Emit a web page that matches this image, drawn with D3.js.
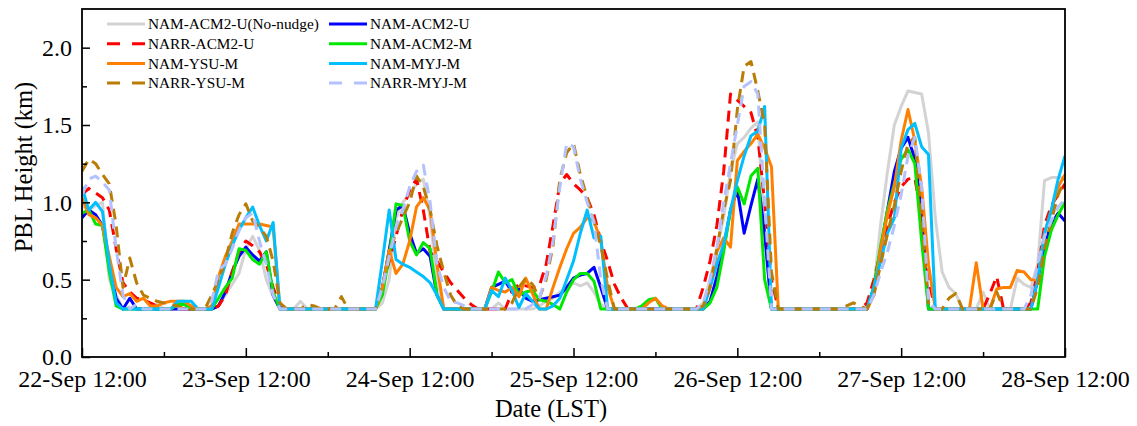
<!DOCTYPE html>
<html>
<head>
<meta charset="utf-8">
<script src="https://cdn.jsdelivr.net/npm/d3@7"></script>
<style>
    body { margin: 0; background: #fff; }
    text { font-family: "Liberation Serif", "Times New Roman", serif; fill: #000; }
</style>
</head>
<body>
<svg id="chart" width="1137" height="426"></svg>
<script>
// hourly PBL height (km), 22-Sep 12:00 .. 28-Sep 12:00 LST (145 values each)
const namAcm2UNoNudge = [
    0.98, 0.95, 0.98, 1.00, 0.50, 0.40, 0.31, 0.31, 0.31, 0.31, 0.31, 0.34,
    0.31, 0.31, 0.31, 0.31, 0.31, 0.31, 0.31, 0.31, 0.33, 0.40, 0.47, 0.54,
    0.70, 0.78, 0.69, 0.50, 0.39, 0.31, 0.31, 0.31, 0.36, 0.31, 0.31, 0.31,
    0.31, 0.31, 0.31, 0.31, 0.31, 0.31, 0.31, 0.31, 0.35, 0.50, 0.90, 1.00,
    1.05, 1.12, 1.15, 0.90, 0.50, 0.31, 0.31, 0.31, 0.31, 0.31, 0.31, 0.31,
    0.31, 0.35, 0.31, 0.31, 0.31, 0.31, 0.31, 0.33, 0.36, 0.38, 0.42, 0.45,
    0.48, 0.46, 0.48, 0.42, 0.34, 0.31, 0.31, 0.31, 0.31, 0.31, 0.31, 0.31,
    0.31, 0.31, 0.31, 0.31, 0.31, 0.31, 0.31, 0.35, 0.50, 0.70, 0.90, 1.20,
    1.38, 1.42, 1.48, 1.52, 0.80, 0.31, 0.31, 0.31, 0.31, 0.31, 0.31, 0.31,
    0.31, 0.31, 0.31, 0.31, 0.31, 0.31, 0.31, 0.33, 0.45, 0.86, 1.20, 1.50,
    1.62, 1.72, 1.71, 1.70, 1.45, 0.90, 0.55, 0.45, 0.41, 0.31, 0.31, 0.31,
    0.42, 0.31, 0.31, 0.31, 0.31, 0.51, 0.47, 0.45, 0.60, 1.14, 1.16, 1.16,
    1.16
];
const namAcm2U = [
    0.90, 0.95, 0.92, 0.85, 0.60, 0.38, 0.31, 0.38, 0.31, 0.31, 0.31, 0.31,
    0.31, 0.31, 0.31, 0.31, 0.31, 0.31, 0.31, 0.31, 0.33, 0.42, 0.55, 0.65,
    0.71, 0.66, 0.62, 0.68, 0.40, 0.31, 0.31, 0.31, 0.31, 0.31, 0.31, 0.31,
    0.31, 0.31, 0.31, 0.31, 0.31, 0.31, 0.31, 0.31, 0.45, 0.69, 0.95, 0.98,
    0.80, 0.67, 0.70, 0.65, 0.40, 0.31, 0.31, 0.31, 0.31, 0.31, 0.31, 0.31,
    0.45, 0.47, 0.49, 0.42, 0.44, 0.38, 0.36, 0.37, 0.38, 0.39, 0.40, 0.45,
    0.51, 0.53, 0.54, 0.58, 0.45, 0.31, 0.31, 0.31, 0.31, 0.31, 0.31, 0.31,
    0.31, 0.31, 0.31, 0.31, 0.31, 0.31, 0.31, 0.31, 0.36, 0.52, 0.71, 0.95,
    1.08, 0.80, 0.98, 1.15, 0.80, 0.31, 0.31, 0.31, 0.31, 0.31, 0.31, 0.31,
    0.31, 0.31, 0.31, 0.31, 0.31, 0.31, 0.31, 0.31, 0.45, 0.70, 0.95, 1.20,
    1.35, 1.42, 1.28, 0.95, 0.31, 0.31, 0.31, 0.31, 0.31, 0.31, 0.31, 0.31,
    0.31, 0.31, 0.31, 0.31, 0.31, 0.31, 0.31, 0.31, 0.50, 0.72, 0.86, 0.93,
    0.88
];
const narrAcm2U = [
    1.05, 1.09, 1.06, 1.03, 0.95, 0.70, 0.48, 0.42, 0.38, 0.37, 0.35, 0.33,
    0.31, 0.31, 0.31, 0.31, 0.31, 0.31, 0.31, 0.31, 0.33, 0.40, 0.55, 0.68,
    0.75, 0.72, 0.68, 0.60, 0.45, 0.33, 0.31, 0.31, 0.31, 0.31, 0.31, 0.31,
    0.31, 0.31, 0.31, 0.31, 0.31, 0.31, 0.31, 0.31, 0.45, 0.62, 0.78, 0.95,
    1.08, 1.15, 0.95, 0.68, 0.62, 0.55, 0.48, 0.43, 0.38, 0.34, 0.31, 0.31,
    0.31, 0.31, 0.31, 0.42, 0.47, 0.46, 0.45, 0.46, 0.60, 0.85, 1.12, 1.18,
    1.12, 1.08, 1.03, 0.92, 0.75, 0.62, 0.47, 0.38, 0.31, 0.31, 0.31, 0.31,
    0.31, 0.31, 0.31, 0.31, 0.31, 0.31, 0.31, 0.45, 0.62, 0.85, 1.20, 1.70,
    1.66, 1.62, 1.58, 1.42, 1.00, 0.50, 0.31, 0.31, 0.31, 0.31, 0.31, 0.31,
    0.31, 0.31, 0.31, 0.31, 0.31, 0.31, 0.31, 0.35, 0.50, 0.68, 0.85, 1.00,
    1.10, 1.15, 1.16, 0.90, 0.50, 0.31, 0.31, 0.31, 0.31, 0.31, 0.31, 0.31,
    0.31, 0.41, 0.52, 0.31, 0.31, 0.31, 0.31, 0.35, 0.55, 0.85, 0.98, 1.05,
    1.12
];
const namAcm2M = [
    0.93, 0.95, 0.86, 0.85, 0.55, 0.33, 0.31, 0.31, 0.31, 0.31, 0.31, 0.31,
    0.31, 0.31, 0.34, 0.34, 0.31, 0.31, 0.31, 0.31, 0.38, 0.45, 0.51, 0.70,
    0.69, 0.63, 0.60, 0.68, 0.42, 0.31, 0.31, 0.31, 0.31, 0.31, 0.31, 0.31,
    0.31, 0.31, 0.31, 0.31, 0.31, 0.31, 0.31, 0.31, 0.40, 0.65, 0.99, 0.98,
    0.75, 0.66, 0.74, 0.70, 0.40, 0.31, 0.31, 0.31, 0.31, 0.31, 0.31, 0.31,
    0.42, 0.55, 0.48, 0.50, 0.40, 0.42, 0.43, 0.37, 0.36, 0.34, 0.31, 0.42,
    0.50, 0.54, 0.54, 0.49, 0.31, 0.31, 0.31, 0.31, 0.31, 0.31, 0.33, 0.37,
    0.38, 0.31, 0.31, 0.31, 0.31, 0.31, 0.31, 0.31, 0.35, 0.45, 0.68, 0.95,
    1.10, 0.99, 1.17, 1.22, 0.50, 0.31, 0.31, 0.31, 0.31, 0.31, 0.31, 0.31,
    0.31, 0.31, 0.31, 0.31, 0.31, 0.31, 0.31, 0.31, 0.45, 0.72, 0.95, 1.12,
    1.28, 1.34, 1.25, 0.75, 0.31, 0.31, 0.31, 0.31, 0.31, 0.31, 0.31, 0.31,
    0.31, 0.31, 0.31, 0.31, 0.31, 0.31, 0.31, 0.31, 0.31, 0.65, 0.82, 0.92,
    1.00
];
const namYsuM = [
    1.03, 0.92, 0.90, 0.85, 0.65, 0.45, 0.39, 0.41, 0.36, 0.38, 0.33, 0.33,
    0.35, 0.36, 0.36, 0.36, 0.33, 0.31, 0.31, 0.33, 0.52, 0.65, 0.75, 0.86,
    0.86, 0.86, 0.86, 0.85, 0.84, 0.31, 0.31, 0.31, 0.31, 0.31, 0.31, 0.31,
    0.31, 0.31, 0.31, 0.31, 0.31, 0.31, 0.31, 0.31, 0.45, 0.69, 0.54, 0.60,
    0.75, 0.97, 1.03, 0.95, 0.60, 0.31, 0.31, 0.31, 0.31, 0.31, 0.31, 0.31,
    0.45, 0.43, 0.42, 0.45, 0.39, 0.51, 0.41, 0.31, 0.31, 0.45, 0.58, 0.70,
    0.80, 0.84, 0.90, 0.88, 0.75, 0.45, 0.31, 0.31, 0.31, 0.31, 0.31, 0.35,
    0.38, 0.33, 0.31, 0.31, 0.31, 0.31, 0.31, 0.31, 0.45, 0.68, 0.77, 0.71,
    1.27, 1.33, 1.38, 1.44, 1.35, 1.23, 0.31, 0.31, 0.31, 0.31, 0.31, 0.31,
    0.31, 0.31, 0.31, 0.31, 0.31, 0.31, 0.31, 0.31, 0.40, 0.70, 0.92, 1.10,
    1.40, 1.60, 1.40, 1.10, 0.60, 0.31, 0.31, 0.31, 0.31, 0.31, 0.31, 0.61,
    0.31, 0.31, 0.44, 0.45, 0.45, 0.56, 0.55, 0.50, 0.50, 0.80, 0.95, 1.10,
    1.18
];
const namMyjM = [
    1.10, 0.95, 1.00, 0.94, 0.60, 0.35, 0.31, 0.31, 0.31, 0.31, 0.31, 0.31,
    0.31, 0.31, 0.36, 0.36, 0.36, 0.31, 0.31, 0.31, 0.45, 0.60, 0.72, 0.82,
    0.90, 0.97, 0.85, 0.75, 0.87, 0.31, 0.31, 0.31, 0.31, 0.31, 0.31, 0.31,
    0.31, 0.31, 0.31, 0.31, 0.31, 0.31, 0.31, 0.31, 0.62, 0.95, 0.63, 0.60,
    0.58, 0.55, 0.52, 0.48, 0.40, 0.31, 0.31, 0.31, 0.31, 0.31, 0.31, 0.31,
    0.43, 0.39, 0.51, 0.43, 0.32, 0.41, 0.36, 0.31, 0.31, 0.33, 0.38, 0.50,
    0.62, 0.80, 0.95, 0.77, 0.78, 0.31, 0.31, 0.31, 0.31, 0.31, 0.31, 0.31,
    0.31, 0.31, 0.31, 0.31, 0.31, 0.31, 0.31, 0.31, 0.45, 0.60, 0.73, 0.95,
    1.14, 1.30, 1.43, 1.46, 1.62, 0.31, 0.31, 0.31, 0.31, 0.31, 0.31, 0.31,
    0.31, 0.31, 0.31, 0.31, 0.31, 0.31, 0.31, 0.31, 0.45, 0.62, 0.80, 0.90,
    1.35, 1.47, 1.51, 1.36, 1.31, 0.31, 0.31, 0.31, 0.31, 0.31, 0.31, 0.31,
    0.31, 0.31, 0.31, 0.31, 0.31, 0.31, 0.31, 0.31, 0.50, 0.80, 0.95, 1.15,
    1.30
];
const narrYsuM = [
    1.20, 1.28, 1.25, 1.18, 1.12, 0.85, 0.45, 0.64, 0.48, 0.40, 0.38, 0.36,
    0.35, 0.34, 0.33, 0.31, 0.31, 0.31, 0.31, 0.40, 0.50, 0.62, 0.80, 0.92,
    0.99, 0.88, 0.84, 0.78, 0.62, 0.35, 0.31, 0.31, 0.31, 0.34, 0.33, 0.31,
    0.31, 0.31, 0.39, 0.31, 0.31, 0.31, 0.31, 0.31, 0.45, 0.68, 0.80, 0.90,
    1.00, 1.17, 1.10, 0.95, 0.72, 0.55, 0.40, 0.33, 0.31, 0.31, 0.31, 0.31,
    0.31, 0.31, 0.31, 0.35, 0.45, 0.51, 0.47, 0.38, 0.50, 0.72, 1.15, 1.32,
    1.38, 1.18, 1.03, 0.88, 0.72, 0.50, 0.31, 0.31, 0.31, 0.31, 0.31, 0.31,
    0.31, 0.31, 0.31, 0.31, 0.31, 0.31, 0.31, 0.33, 0.45, 0.70, 0.95, 1.14,
    1.60, 1.88, 1.91, 1.72, 1.50, 0.55, 0.31, 0.31, 0.31, 0.31, 0.31, 0.31,
    0.31, 0.31, 0.31, 0.31, 0.33, 0.35, 0.33, 0.31, 0.40, 0.60, 0.80, 0.98,
    1.20, 1.38, 1.42, 0.90, 0.35, 0.31, 0.31, 0.38, 0.41, 0.31, 0.31, 0.31,
    0.31, 0.31, 0.42, 0.31, 0.31, 0.31, 0.31, 0.31, 0.45, 0.70, 0.88, 1.05,
    1.15
];
const narrMyjM = [
    1.05, 1.15, 1.17, 1.13, 1.08, 0.70, 0.40, 0.31, 0.34, 0.31, 0.31, 0.31,
    0.31, 0.31, 0.31, 0.31, 0.31, 0.31, 0.31, 0.36, 0.56, 0.60, 0.70, 0.82,
    0.90, 0.93, 0.75, 0.60, 0.40, 0.31, 0.31, 0.31, 0.31, 0.31, 0.31, 0.31,
    0.31, 0.31, 0.31, 0.31, 0.31, 0.31, 0.31, 0.31, 0.45, 0.65, 0.84, 0.95,
    1.10, 1.20, 1.24, 1.00, 0.60, 0.45, 0.36, 0.35, 0.33, 0.31, 0.31, 0.31,
    0.31, 0.31, 0.31, 0.31, 0.31, 0.31, 0.34, 0.38, 0.52, 0.75, 1.10, 1.38,
    1.36, 1.15, 1.00, 0.87, 0.50, 0.31, 0.31, 0.31, 0.31, 0.31, 0.31, 0.31,
    0.31, 0.31, 0.31, 0.31, 0.31, 0.31, 0.31, 0.35, 0.50, 0.70, 1.00, 1.25,
    1.50, 1.75, 1.78, 1.70, 1.00, 0.31, 0.31, 0.31, 0.31, 0.31, 0.31, 0.31,
    0.31, 0.31, 0.31, 0.31, 0.31, 0.31, 0.31, 0.31, 0.40, 0.55, 0.68, 0.85,
    1.05, 1.30, 1.42, 1.10, 0.36, 0.31, 0.31, 0.31, 0.31, 0.31, 0.31, 0.31,
    0.31, 0.31, 0.31, 0.31, 0.31, 0.31, 0.31, 0.40, 0.60, 0.78, 0.88, 0.97,
    1.02
];

const seriesNames = [
    'NAM-ACM2-U(No-nudge)', 'NAM-ACM2-U', 'NARR-ACM2-U', 'NAM-ACM2-M',
    'NAM-YSU-M', 'NAM-MYJ-M', 'NARR-YSU-M', 'NARR-MYJ-M',
];
const seriesValues = [
    namAcm2UNoNudge, namAcm2U, narrAcm2U, namAcm2M,
    namYsuM, namMyjM, narrYsuM, narrMyjM,
];
const yTickValues = [0, 0.5, 1.0, 1.5, 2.0];
const yMinorValues = [0.25, 0.75, 1.25, 1.75];

// styles
const colors = ['#d3d3d3', '#0000ff', '#ff0000', '#00e800', '#ff8000', '#00bfff', '#b97d06', '#b3c1ff'];
const dashed = [false, false, true, false, false, false, true, true];

const svg = d3.select('#chart');
const plot = { left: 82, right: 1065, top: 9, bottom: 357 };

const t0 = new Date(2000, 8, 22, 12);
const times = seriesValues[0].map((d, i) => d3.timeHour.offset(t0, i));
const noons = d3.range(7).map((i) => d3.timeDay.offset(t0, i));
const midnights = d3.range(6).map((i) => d3.timeHour.offset(t0, 12 + 24 * i));

const x = d3.scaleTime()
    .domain([t0, times[times.length - 1]])
    .range([plot.left, plot.right]);
const y = d3.scaleLinear()
    .domain([0, 2.25])
    .range([plot.bottom, plot.top]);

svg.append('defs').append('clipPath').attr('id', 'clip')
    .append('rect')
    .attr('x', plot.left).attr('y', plot.top)
    .attr('width', plot.right - plot.left).attr('height', plot.bottom - plot.top);

// lines
const line = d3.line()
    .x((d, i) => x(times[i]))
    .y((d) => y(d));

const lines = svg.append('g').attr('clip-path', 'url(#clip)');
seriesValues.forEach((vals, k) => {
    lines.append('path')
        .datum(vals)
        .attr('d', line)
        .attr('fill', 'none')
        .attr('stroke', colors[k])
        .attr('stroke-width', 3)
        .attr('stroke-linejoin', 'round')
        .attr('stroke-dasharray', dashed[k] ? '11,7' : null);
});

// axes (ticks point inward)
const xAxis = svg.append('g')
    .attr('transform', `translate(0, ${ plot.bottom })`)
    .call(d3.axisBottom(x)
        .tickValues(noons)
        .tickFormat(d3.timeFormat('%d-%b %H:%M'))
        .tickSizeInner(-9)
        .tickSizeOuter(0)
        .tickPadding(13));
svg.append('g')
    .attr('transform', `translate(0, ${ plot.bottom })`)
    .call(d3.axisBottom(x).tickValues(midnights).tickFormat('').tickSizeInner(-5).tickSizeOuter(0));

const yAxis = svg.append('g')
    .attr('transform', `translate(${ plot.left }, 0)`)
    .call(d3.axisLeft(y)
        .tickValues(yTickValues)
        .tickFormat(d3.format('.1f'))
        .tickSizeInner(-8)
        .tickSizeOuter(0)
        .tickPadding(10));
svg.append('g')
    .attr('transform', `translate(${ plot.left }, 0)`)
    .call(d3.axisLeft(y).tickValues(yMinorValues).tickFormat('').tickSizeInner(-5).tickSizeOuter(0));

svg.selectAll('.domain').remove();
svg.selectAll('.tick line').attr('stroke', '#000').attr('stroke-width', 1.5);
svg.selectAll('.tick text')
    .style('font-family', '"Liberation Serif", "Times New Roman", serif')
    .style('font-size', '24px')
    .attr('fill', '#000');

// frame
svg.append('rect')
    .attr('x', plot.left).attr('y', plot.top)
    .attr('width', plot.right - plot.left).attr('height', plot.bottom - plot.top)
    .attr('fill', 'none')
    .attr('stroke', '#000')
    .attr('stroke-width', 1.8);

// axis titles
svg.append('text')
    .attr('x', 551).attr('y', 417)
    .attr('text-anchor', 'middle')
    .style('font-size', '24.5px')
    .text('Date (LST)');
svg.append('text')
    .attr('transform', 'translate(32, 167) rotate(-90)')
    .attr('text-anchor', 'middle')
    .style('font-size', '24.5px')
    .text('PBL Height (km)');

// legend, two columns filled row by row
const legend = svg.append('g').attr('class', 'legend');
seriesNames.forEach((name, k) => {
    const col = k % 2;
    const row = Math.floor(k / 2);
    const lx = col === 0 ? 107 : 329;
    const ly = 24 + row * 19.7;
    legend.append('line')
        .attr('x1', lx).attr('x2', lx + 38)
        .attr('y1', ly).attr('y2', ly)
        .attr('stroke', colors[k])
        .attr('stroke-width', 3)
        .attr('stroke-dasharray', dashed[k] ? '13,12' : null);
    legend.append('text')
        .attr('x', lx + 41).attr('y', ly)
        .attr('dy', '0.35em')
        .style('font-size', '15.3px')
        .text(name);
});
</script>
</body>
</html>
